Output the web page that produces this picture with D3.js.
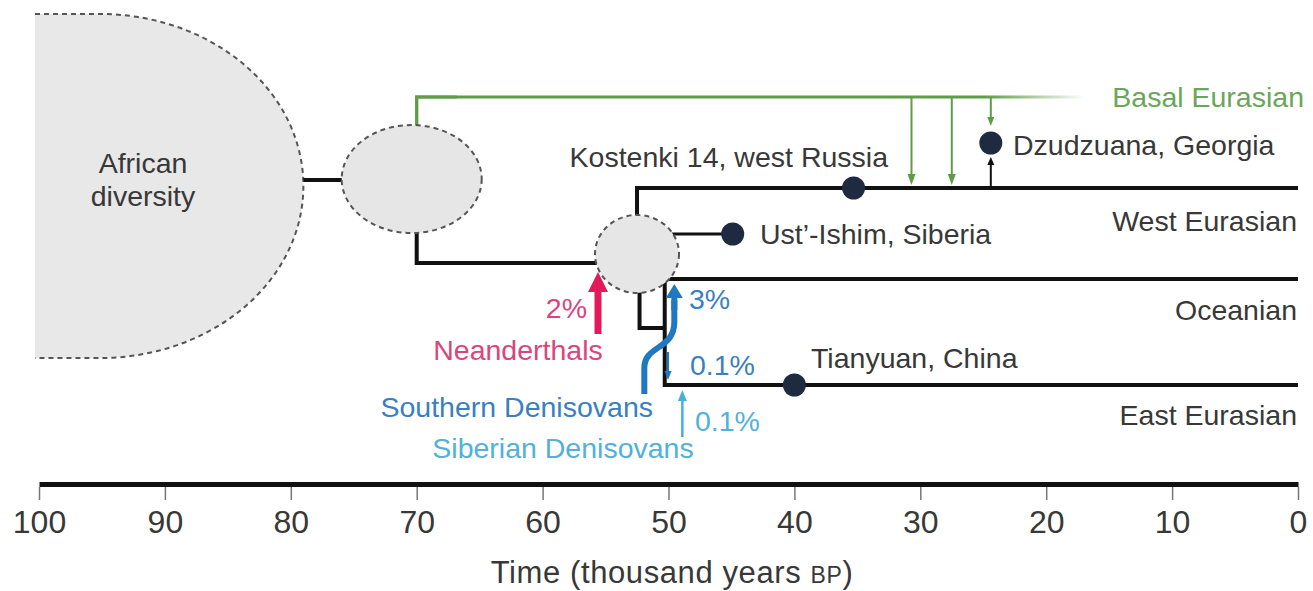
<!DOCTYPE html>
<html><head><meta charset="utf-8">
<script src="https://cdn.jsdelivr.net/npm/d3@7"></script>
<style>
html,body{margin:0;padding:0;background:#fff;}
svg{display:block;font-family:"Liberation Sans",Arial,Helvetica,sans-serif;}
</style></head>
<body>
<svg id="chart" width="1313" height="591"></svg>
<script>
// ---- data ----
const tickValues = [100, 90, 80, 70, 60, 50, 40, 30, 20, 10, 0];
const africaEdgeAge = 79;          // right edge of African diversity
const outOfAfricaAge = 70;         // Eurasian founder population
const eurasianSplitAge = 52.5;     // split node
const oceanSplitAge = 52.3;
const eastSplitAge = 50.3;
const lineageNames = ["West Eurasian", "Oceanian", "East Eurasian"];
const sampleNames = ["Kostenki 14, west Russia", "Ust\u2019-Ishim, Siberia", "Dzudzuana, Georgia", "Tianyuan, China"];
const sampleAges = [35.3, 44.9, 24.4, 40.0];
const basalPulseAges = [30.7, 27.5, 24.4];
const admixSources = ["Neanderthals", "Southern Denisovans", "Siberian Denisovans"];
const admixPercents = ["2%", "3%", "0.1%", "0.1%"];
const admixAges = [55.6, 49.3, 49.8, 48.9];

// ---- layout ----
const svg = d3.select("#chart");
const x = d3.scaleLinear().domain([100, 0]).range([39, 1298]);
const row = d3.scaleOrdinal()
  .domain(["basal", "dzud", "west", "ust", "root", "ocean", "east"])
  .range([97, 143, 188, 234, 263, 279, 385]);

const black = "#111";
const green = "#5f9c47", greenText = "#6aa65a";
const pink = "#e3195c", pinkText = "#d9467c";
const blue = "#1f78c1", blueText = "#3a7fbf";
const lblue = "#49aede", lblueText = "#52b0dc";
const grayText = "#383838";
const dotCol = "#1e2a40";

const defs = svg.append("defs");
const grad = defs.append("linearGradient").attr("id", "basalGrad")
  .attr("gradientUnits", "userSpaceOnUse")
  .attr("x1", x(outOfAfricaAge)).attr("x2", 1085).attr("y1", 0).attr("y2", 0);
grad.append("stop").attr("offset", "0.85").attr("stop-color", green).attr("stop-opacity", 1);
grad.append("stop").attr("offset", "1").attr("stop-color", green).attr("stop-opacity", 0);

// African diversity
const afR = x(africaEdgeAge);
const afCx = 100, afTop = 14, afBot = 358, afRx = afR - afCx, afRy = (afBot - afTop) / 2;
svg.append("path")
  .attr("d", `M35,${afTop} L${afCx},${afTop} A${afRx},${afRy} 0 0 1 ${afCx},${afBot} L35,${afBot} Z`)
  .attr("fill", "#e8e8e8");
svg.append("path")
  .attr("d", `M35,${afTop} L${afCx},${afTop} A${afRx},${afRy} 0 0 1 ${afCx},${afBot} L35,${afBot}`)
  .attr("fill", "none").attr("stroke", "#555").attr("stroke-width", 2).attr("stroke-dasharray", "5,4");
svg.append("text").attr("x", 143).attr("y", 173).attr("text-anchor", "middle")
  .attr("font-size", 28.5).attr("fill", grayText).text("African");
svg.append("text").attr("x", 143).attr("y", 206).attr("text-anchor", "middle")
  .attr("font-size", 28.5).attr("fill", grayText).text("diversity");

const lw = 4;
function seg(pts, col, w) {
  svg.append("path").attr("d", d3.line()(pts)).attr("fill", "none")
    .attr("stroke", col).attr("stroke-width", w).attr("stroke-linejoin", "miter").attr("stroke-linecap", "butt");
}
// connector Africa -> founder
seg([[afR, 180], [x(outOfAfricaAge) - 70, 180]], black, lw);

// Basal Eurasian line
const xo = x(outOfAfricaAge);
svg.append("path").attr("d", d3.line()([[xo, 150], [xo, row("basal")], [1085, row("basal")]]))
  .attr("fill", "none").attr("stroke", "url(#basalGrad)").attr("stroke-width", 3);
svg.append("path").attr("d", d3.line()([[xo, 150], [xo, row("basal")], [xo + 40, row("basal")]]))
  .attr("fill", "none").attr("stroke", green).attr("stroke-width", 3);

// main stem from founder to split node
seg([[xo, 215], [xo, row("root")], [x(eurasianSplitAge) - 40, row("root")]], black, lw);

// founder ellipse
svg.append("ellipse").attr("cx", xo - 5).attr("cy", 179).attr("rx", 70).attr("ry", 54)
  .attr("fill", "#e6e6e6").attr("stroke", "#555").attr("stroke-width", 2).attr("stroke-dasharray", "5,4");

// West Eurasian
const xs = x(eurasianSplitAge);
seg([[xs, 230], [xs, row("west")], [x(0), row("west")]], black, lw);
// Ust'-Ishim branch
seg([[xs + 30, row("ust")], [x(sampleAges[1]), row("ust")]], black, 3);
// Oceanian / East
const xoc = x(oceanSplitAge), xe = x(eastSplitAge);
seg([[xoc, 280], [xoc, 328], [xe, 328]], black, lw);
seg([[x(0), row("ocean")], [xe, row("ocean")], [xe, row("east")], [x(0), row("east")]], black, lw);

// split node circle
svg.append("ellipse").attr("cx", xs).attr("cy", 254).attr("rx", 42).attr("ry", 39)
  .attr("fill", "#e6e6e6").attr("stroke", "#555").attr("stroke-width", 2).attr("stroke-dasharray", "5,4");

// arrow helper
function arrow(pts, col, w, hl, hw) {
  const n = pts.length, p1 = pts[n - 2], p2 = pts[n - 1];
  const dx = p2[0] - p1[0], dy = p2[1] - p1[1], L = Math.hypot(dx, dy);
  const ux = dx / L, uy = dy / L;
  const bx = p2[0] - ux * hl, by = p2[1] - uy * hl;
  const shaft = pts.slice(0, n - 1).concat([[bx + ux * 1, by + uy * 1]]);
  svg.append("path").attr("d", d3.line()(shaft)).attr("fill", "none").attr("stroke", col).attr("stroke-width", w);
  svg.append("path").attr("d", d3.line()([[p2[0], p2[1]], [bx - uy * hw / 2, by + ux * hw / 2], [bx + uy * hw / 2, by - ux * hw / 2]]) + "Z")
    .attr("fill", col);
}
// basal pulses
arrow([[x(basalPulseAges[0]), row("basal")], [x(basalPulseAges[0]), row("west") - 3]], green, 2, 11, 8);
arrow([[x(basalPulseAges[1]), row("basal")], [x(basalPulseAges[1]), row("west") - 3]], green, 2, 11, 8);
arrow([[x(basalPulseAges[2]), row("basal")], [x(basalPulseAges[2]), row("dzud") - 17]], green, 2, 9, 7);
// Dzudzuana from west
arrow([[x(sampleAges[2]), row("west") - 2], [x(sampleAges[2]), row("dzud") + 14]], black, 2, 8, 7);

// Neanderthal arrow
arrow([[x(admixAges[0]), 334], [x(admixAges[0]), 272]], pink, 7, 20, 20);
// Southern Denisovans curvy arrow
const sx = x(admixAges[1]);
svg.append("path").attr("d", `M${sx - 33},394 L${sx - 33},368 C${sx - 33},345 ${sx - 3},350 ${sx - 3},322 L${sx - 3},300`)
  .attr("fill", "none").attr("stroke", blue).attr("stroke-width", 6);
arrow([[sx - 3, 310], [sx - 3, 284]], blue, 6, 14, 17);
// 0.1% down to East
arrow([[x(admixAges[2]) - 3, 352], [x(admixAges[2]) - 3, 380]], blue, 2, 9, 7);
// Siberian Denisovans
arrow([[x(admixAges[3]), 437], [x(admixAges[3]), 390]], lblue, 2.5, 11, 9);

// sample dots
const dotRows = ["west", "ust", "dzud", "east"];
svg.selectAll("circle.sample").data(sampleAges).join("circle").attr("class", "sample")
  .attr("cx", d => x(d)).attr("cy", (d, i) => row(dotRows[i])).attr("r", 11.5).attr("fill", dotCol);

// labels
const fs = 28.5;
function label(t, px, py, anchor, col, size) {
  return svg.append("text").attr("x", px).attr("y", py).attr("text-anchor", anchor)
    .attr("font-size", size || fs).attr("fill", col || grayText).text(t);
}
label("Basal Eurasian", 1304, 107, "end", greenText);
label(sampleNames[2], 1013, 155, "start");
label(sampleNames[0], 888, 167, "end");
label(lineageNames[0], 1297, 231, "end");
label(sampleNames[1], 760, 244, "start");
label(lineageNames[1], 1297, 320, "end");
label(sampleNames[3], 811, 368, "start");
label(lineageNames[2], 1297, 425, "end");
label(admixPercents[0], 587, 318, "end", pinkText);
label(admixSources[0], 518, 360, "middle", pinkText);
label(admixPercents[1], 689, 309, "start", blueText);
label(admixPercents[2], 690, 375, "start", blueText);
label(admixPercents[3], 695, 431, "start", lblueText);
label(admixSources[1], 653, 417, "end", blueText);
label(admixSources[2], 563, 458, "middle", lblueText);

// axis
const axisY = 484;
const ax = svg.append("g").attr("transform", `translate(0,${axisY})`)
  .call(d3.axisBottom(x).tickValues(tickValues).tickSize(16).tickSizeOuter(0).tickPadding(10));
ax.select(".domain").attr("stroke", black).attr("stroke-width", 5);
ax.selectAll(".tick line").attr("stroke", "#777").attr("stroke-width", 1.5).attr("y1", 3);
ax.selectAll(".tick text").attr("font-size", 32).attr("fill", grayText)
  .attr("font-family", '"Liberation Sans",Arial,sans-serif');
const title = svg.append("text").attr("x", 672).attr("y", 583).attr("text-anchor", "middle")
  .attr("font-size", 31).attr("letter-spacing", 0.6).attr("fill", grayText);
title.append("tspan").text("Time (thousand years ");
title.append("tspan").attr("font-size", 23).text("BP");
title.append("tspan").text(")");
</script>
</body></html>
